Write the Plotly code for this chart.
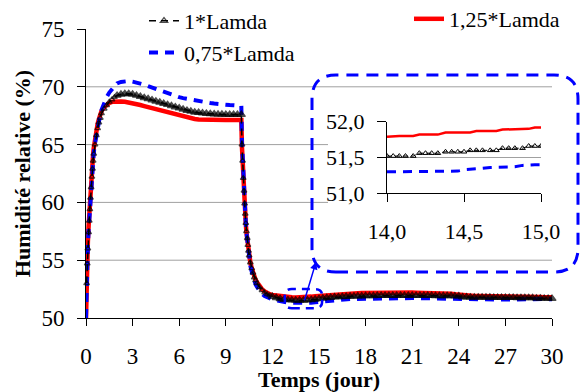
import plotly.graph_objects as go

# ---------------- data ----------------
t_rise = [0, 0.04, 0.08, 0.12, 0.17, 0.21, 0.25, 0.29, 0.33, 0.38, 0.42, 0.46, 0.5,
          0.58, 0.67, 0.75, 0.83, 0.92, 1.0, 1.17, 1.33, 1.5, 1.67, 1.83]
t_plat1 = [2.0, 2.25, 2.5, 2.75, 3.0, 3.25, 3.5, 3.75, 4.0, 4.25, 4.5, 4.75, 5.0, 5.25,
           5.5, 5.75, 6.0, 6.25, 6.5, 6.75, 7.0, 7.25, 7.5, 7.75, 8.0, 8.25, 8.5, 8.75,
           9.0, 9.25, 9.5, 9.75, 10.0]
t_fall = [10.04, 10.08, 10.12, 10.17, 10.21, 10.25, 10.29, 10.33, 10.38, 10.42, 10.46,
          10.5, 10.58, 10.67, 10.75, 10.83, 10.92, 11.0, 11.17, 11.33, 11.5, 11.67, 11.83]
t_plat2 = [12.0, 12.25, 12.5, 12.75, 13.0, 13.25, 13.5, 13.75, 14.0, 14.25, 14.5, 14.75,
           15.0, 15.25, 15.5, 15.75, 16.0, 16.25, 16.5, 16.75, 17.0, 17.25, 17.5, 17.75,
           18.0, 18.25, 18.5, 18.75, 19.0, 19.25, 19.5, 19.75, 20.0, 20.25, 20.5, 20.75,
           21.0, 21.25, 21.5, 21.75, 22.0, 22.25, 22.5, 22.75, 23.0, 23.25, 23.5, 23.75,
           24.0, 24.25, 24.5, 24.75, 25.0, 25.25, 25.5, 25.75, 26.0, 26.25, 26.5, 26.75,
           27.0, 27.25, 27.5, 27.75, 28.0, 28.25, 28.5, 28.75, 29.0, 29.25, 29.5, 29.75,
           30.0]

# 1*Lamda
l100_rise = [None, 53.0, 54.7, 56.0, 57.4, 58.4, 59.4, 60.4, 61.3, 62.2, 62.9, 63.6, 64.2,
             65.0, 65.8, 66.4, 66.9, 67.3, 67.7, 68.1, 68.4, 68.7, 68.9, 69.1]
l100_plat1 = [69.25, 69.35, 69.4, 69.4, 69.35, 69.25, 69.15, 69.05, 68.95, 68.85, 68.75,
              68.65, 68.55, 68.45, 68.35, 68.25, 68.15, 68.05, 67.95, 67.88, 67.8, 67.76,
              67.72, 67.69, 67.66, 67.64, 67.62, 67.61, 67.6, 67.6, 67.6, 67.6, 67.6]
l100_fall = [65.0, 63.6, 62.1, 61.0, 59.9, 59.0, 58.2, 57.5, 56.9, 56.3, 55.8, 55.4, 54.8,
             54.3, 53.9, 53.5, 53.25, 53.0, 52.65, 52.4, 52.2, 52.05, 51.95]
l100_plat2 = [51.85, 51.75, 51.66, 51.6, 51.56, 51.54, 51.53, 51.52, 51.52, 51.55, 51.58,
              51.62, 51.66, 51.7, 51.74, 51.77, 51.8, 51.82, 51.84, 51.86, 51.87, 51.88,
              51.89, 51.9, 51.91, 51.92, 51.92, 51.93, 51.93, 51.93, 51.94, 51.94, 51.94,
              51.94, 51.94, 51.94, 51.94, 51.94, 51.93, 51.93, 51.93, 51.93, 51.92, 51.92,
              51.92, 51.91, 51.91, 51.9, 51.9, 51.8, 51.8, 51.79, 51.79, 51.79, 51.78,
              51.78, 51.78, 51.77, 51.77, 51.77, 51.76, 51.76, 51.76, 51.75, 51.75, 51.75,
              51.74, 51.74, 51.7, 51.7, 51.69, 51.69, 51.68]

# 1,25*Lamda
l125_rise = [50.0, 53.5, 55.2, 56.6, 58.0, 59.1, 60.1, 61.1, 62.0, 62.9, 63.6, 64.2, 64.7,
             65.5, 66.2, 66.8, 67.2, 67.6, 67.9, 68.25, 68.45, 68.6, 68.7, 68.72]
l125_plat1 = [68.72, 68.72, 68.7, 68.65, 68.58, 68.5, 68.42, 68.33, 68.24, 68.15, 68.06,
              67.98, 67.9, 67.82, 67.74, 67.65, 67.55, 67.45, 67.36, 67.28, 67.22, 67.18,
              67.16, 67.14, 67.13, 67.12, 67.12, 67.12, 67.12, 67.12, 67.12, 67.12, 67.12]
l125_fall = [64.8, 63.3, 61.9, 60.8, 59.8, 58.9, 58.1, 57.4, 56.8, 56.3, 55.8, 55.4, 54.8,
             54.3, 53.9, 53.6, 53.3, 53.1, 52.75, 52.5, 52.3, 52.15, 52.05]
l125_plat2 = [52.0, 51.95, 51.88, 51.83, 51.8, 51.79, 51.78, 51.78, 51.79, 51.82, 51.85,
              51.89, 51.92, 51.96, 52.0, 52.03, 52.06, 52.08, 52.1, 52.12, 52.13, 52.14,
              52.15, 52.16, 52.17, 52.18, 52.18, 52.19, 52.19, 52.19, 52.2, 52.2, 52.2,
              52.2, 52.2, 52.2, 52.2, 52.19, 52.19, 52.18, 52.18, 52.17, 52.16, 52.15,
              52.14, 52.12, 52.1, 52.06, 52.02, 51.95, 51.93, 51.92, 51.91, 51.9, 51.9,
              51.89, 51.89, 51.88, 51.88, 51.88, 51.87, 51.87, 51.87, 51.86, 51.86, 51.86,
              51.85, 51.85, 51.81, 51.81, 51.8, 51.8, 51.79]

# 0,75*Lamda
l075_rise = [50.0, 53.2, 54.9, 56.2, 57.6, 58.6, 59.6, 60.6, 61.5, 62.4, 63.1, 63.8, 64.3,
             65.1, 65.9, 66.6, 67.1, 67.6, 68.0, 68.6, 69.1, 69.5, 69.8, 70.1]
l075_plat1 = [70.3, 70.42, 70.5, 70.5, 70.45, 70.38, 70.3, 70.18, 70.05, 69.92, 69.8,
              69.67, 69.55, 69.42, 69.3, 69.2, 69.1, 69.02, 68.95, 68.87, 68.8, 68.75,
              68.7, 68.65, 68.6, 68.55, 68.5, 68.48, 68.45, 68.42, 68.4, 68.38, 68.35]
l075_fall = [65.3, 63.8, 62.3, 61.1, 60.0, 59.0, 58.1, 57.4, 56.7, 56.1, 55.6, 55.2, 54.5,
             54.0, 53.6, 53.2, 52.9, 52.7, 52.35, 52.1, 51.9, 51.78, 51.7]
l075_plat2 = [51.62, 51.52, 51.44, 51.38, 51.34, 51.32, 51.31, 51.3, 51.3, 51.3, 51.33,
              51.36, 51.4, 51.44, 51.48, 51.52, 51.55, 51.58, 51.6, 51.62, 51.64, 51.65,
              51.66, 51.67, 51.68, 51.69, 51.7, 51.7, 51.71, 51.71, 51.72, 51.72, 51.72,
              51.72, 51.72, 51.72, 51.72, 51.72, 51.71, 51.71, 51.71, 51.71, 51.7, 51.7,
              51.7, 51.69, 51.69, 51.68, 51.68, 51.6, 51.6, 51.6, 51.6, 51.6, 51.59,
              51.59, 51.59, 51.59, 51.59, 51.59, 51.59, 51.6, 51.61, 51.62, 51.63, 51.64,
              51.66, 51.68, 51.66, 51.65, 51.64, 51.63, 51.62]

# inset (zoom on day 14 to 15)
inset_t = [14.0, 14.04, 14.08, 14.12, 14.17, 14.21, 14.25, 14.29, 14.33, 14.38, 14.42,
           14.46, 14.5, 14.54, 14.58, 14.62, 14.67, 14.71, 14.75, 14.79, 14.83, 14.88,
           14.92, 14.96, 15.0]
inset_l100 = [51.52, 51.52, 51.52, 51.52, 51.52, 51.56, 51.56, 51.56, 51.56, 51.58, 51.58,
              51.58, 51.58, 51.6, 51.6, 51.6, 51.6, 51.6, 51.63, 51.63, 51.63, 51.63,
              51.66, 51.66, 51.66]
inset_l125 = [51.79, 51.8, 51.8, 51.8, 51.8, 51.82, 51.82, 51.82, 51.82, 51.85, 51.85,
              51.85, 51.85, 51.85, 51.87, 51.87, 51.87, 51.87, 51.89, 51.89, 51.89, 51.89,
              51.9, 51.92, 51.92]
inset_l075 = [51.3, 51.3, 51.3, 51.3, 51.3, 51.3, 51.3, 51.3, 51.3, 51.3, 51.3, 51.31,
              51.33, 51.34, 51.35, 51.35, 51.36, 51.36, 51.36, 51.36, 51.37, 51.39, 51.4,
              51.4, 51.4]

x_ticks = [0, 3, 6, 9, 12, 15, 18, 21, 24, 27, 30]
y_ticks = [50, 55, 60, 65, 70, 75]
grid_y = [55, 60, 65, 70]
inset_x_ticks = [14.0, 14.5, 15.0]
inset_y_ticks = [51.0, 51.5, 52.0]
zoom_box = dict(x0=12.8, x1=15.2, y0=50.85, y1=52.5)   # highlighted region in main plot

names = ["1*Lamda", "1,25*Lamda", "0,75*Lamda"]

# ---------------- assemble ----------------
time = t_rise + t_plat1 + t_fall + t_plat2
l100 = l100_rise + l100_plat1 + l100_fall + l100_plat2
l125 = l125_rise + l125_plat1 + l125_fall + l125_plat2
l075 = l075_rise + l075_plat1 + l075_fall + l075_plat2

# marker style: small hollow in the steep segments, dense solid in the flat ones
msize = ([5] * len(t_rise) + [7] * len(t_plat1) + [5] * len(t_fall) + [7] * len(t_plat2))
msym = (["triangle-up-open"] * len(t_rise) + ["triangle-up"] * len(t_plat1)
        + ["triangle-up-open"] * len(t_fall) + ["triangle-up"] * len(t_plat2))

FONT = "Liberation Serif"
W, H = 583, 392
L, R, T, B = 86, 31, 29, 74
PW, PH = W - L - R, H - T - B


def px_x(px):
    return (px - L) / PW


def px_y(py):
    return (H - B - py) / PH


def rrect(x0, y0, x1, y1, rx, ry):
    return (f"M{x0+rx},{y0} L{x1-rx},{y0} Q{x1},{y0} {x1},{y0+ry} "
            f"L{x1},{y1-ry} Q{x1},{y1} {x1-rx},{y1} L{x0+rx},{y1} "
            f"Q{x0},{y1} {x0},{y1-ry} L{x0},{y0+ry} Q{x0},{y0} {x0+rx},{y0} Z")


RED = "#ff0000"
BLUE = "#0000ff"

fig = go.Figure()
fig.add_trace(go.Scatter(x=time, y=l125, mode="lines", name=names[1],
                         line=dict(color=RED, width=4.5), legend="legend2"))
fig.add_trace(go.Scatter(x=time, y=l075, mode="lines", name=names[2],
                         line=dict(color=BLUE, width=4, dash="9px,7px"),
                         legend="legend", legendrank=2))
fig.add_trace(go.Scatter(x=time, y=l100, mode="lines+markers", name=names[0],
                         line=dict(color="black", width=1.5, dash="7px,5px"),
                         marker=dict(symbol=msym, size=msize, color="black",
                                     line=dict(width=1.3, color="black")),
                         cliponaxis=False, legend="legend", legendrank=1))
# inset traces
fig.add_trace(go.Scatter(x=inset_t, y=inset_l125, mode="lines", showlegend=False,
                         line=dict(color=RED, width=2.5), xaxis="x2", yaxis="y2"))
fig.add_trace(go.Scatter(x=inset_t, y=inset_l100, mode="lines+markers", showlegend=False,
                         line=dict(color="black", width=1, dash="5px,3px"),
                         marker=dict(symbol="triangle-up-open", size=5, color="black",
                                     line=dict(width=1)),
                         xaxis="x2", yaxis="y2"))
fig.add_trace(go.Scatter(x=inset_t, y=inset_l075, mode="lines", showlegend=False,
                         line=dict(color=BLUE, width=3, dash="9px,7px"),
                         xaxis="x2", yaxis="y2"))

shapes = []
for g in grid_y:
    shapes.append(dict(type="line", xref="x domain", yref="y", x0=0, x1=1, y0=g, y1=g,
                       line=dict(color="#a0a0a0", width=1), layer="below"))
# white background of the inset chart
shapes.append(dict(type="rect", xref="paper", yref="paper", x0=px_x(328), x1=1.0,
                   y0=px_y(250), y1=px_y(100), fillcolor="white",
                   line=dict(width=0), layer="below"))
# big rounded dashed frame around inset
shapes.append(dict(type="path", xref="paper", yref="paper",
                   path=rrect(px_x(312), px_y(272), px_x(578), px_y(75),
                              24 / PW, 24 / PH),
                   line=dict(color=BLUE, width=3, dash="12px,8px"), layer="above"))
# small rounded dashed frame in main plot
shapes.append(dict(type="path", xref="x", yref="y",
                   path=rrect(zoom_box["x0"], zoom_box["y0"], zoom_box["x1"], zoom_box["y1"],
                              0.45, 0.55),
                   line=dict(color=BLUE, width=2.5, dash="8px,6px"), layer="above"))

axis_common = dict(showline=True, linecolor="black", linewidth=1, ticks="outside",
                   tickcolor="black", tickwidth=1, zeroline=False, mirror=False)

fig.update_layout(
    width=W, height=H,
    margin=dict(l=L, r=R, t=T, b=B, pad=0, autoexpand=False),
    paper_bgcolor="white", plot_bgcolor="white",
    font=dict(family=FONT, color="black", size=22),
    separators=", ",
    xaxis=dict(range=[0, 30], tickvals=x_ticks, ticklen=7, showgrid=False,
               tickfont=dict(size=23, family=FONT), ticklabelstandoff=10,
               title=dict(text="<b>Temps (jour)</b>", font=dict(size=22, family=FONT),
                          standoff=0),
               **axis_common),
    yaxis=dict(range=[50, 75], tickvals=y_ticks, ticklen=8, showgrid=False,
               tickfont=dict(size=23, family=FONT), ticklabelstandoff=8,
               title=dict(text="<b>Humidité relative (%)</b>",
                          font=dict(size=22, family=FONT), standoff=4),
               **axis_common),
    xaxis2=dict(domain=[px_x(387), px_x(541)], anchor="y2", range=[14, 15],
                tickvals=inset_x_ticks, tickformat=".1f", ticklen=8, showgrid=False,
                tickfont=dict(size=22, family=FONT), ticklabelstandoff=10, **axis_common),
    yaxis2=dict(domain=[px_y(193.3), px_y(121.7)], anchor="x2", range=[51, 52],
                tickvals=inset_y_ticks, tickformat=".1f", ticklen=9, showgrid=True,
                gridcolor="#a0a0a0", gridwidth=1,
                tickfont=dict(size=22, family=FONT), ticklabelstandoff=8, **axis_common),
    legend=dict(x=px_x(144), y=px_y(0), xanchor="left", yanchor="top",
                bgcolor="rgba(0,0,0,0)", font=dict(family=FONT, size=22),
                tracegroupgap=0),
    legend2=dict(x=px_x(409), y=px_y(-2), xanchor="left", yanchor="top",
                 bgcolor="rgba(0,0,0,0)", font=dict(family=FONT, size=22)),
    shapes=shapes,
    annotations=[dict(x=px_x(316), y=px_y(262), xref="paper", yref="paper", text="",
                      showarrow=True, ax=-12, ay=40, arrowhead=2, arrowsize=1,
                      arrowwidth=1.5, arrowcolor=BLUE)],
)

fig.write_html("out.html", config={"displayModeBar": False},
               post_script="document.body.style.margin='0px';")
